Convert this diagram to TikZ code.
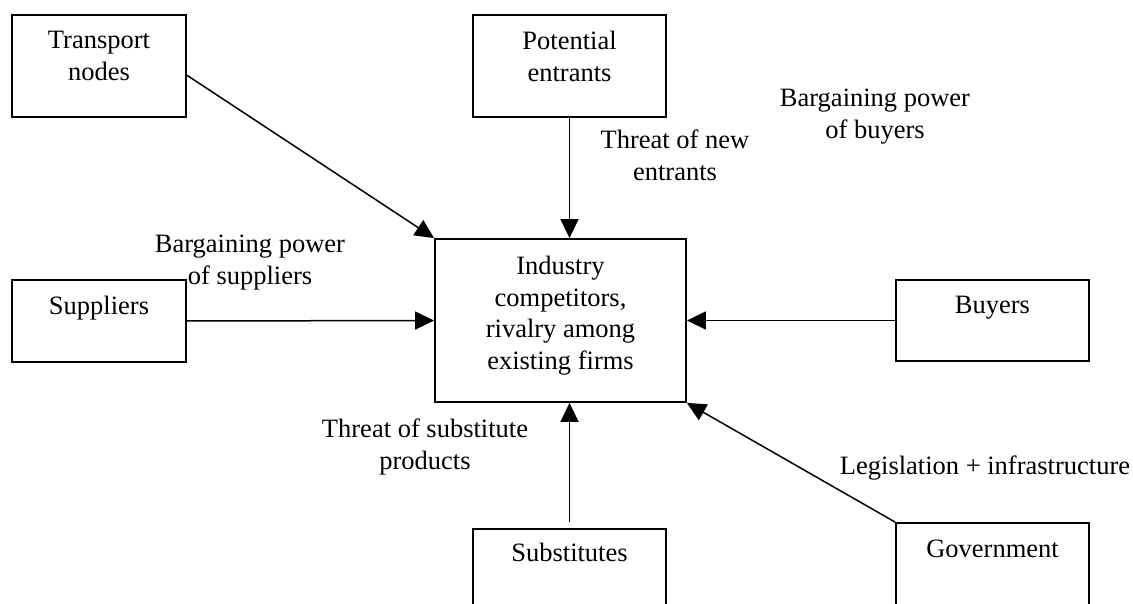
\documentclass[tikz,border=0pt]{standalone}
\usepackage{fontspec}
\setmainfont{Liberation Serif}
\usetikzlibrary{arrows.meta,positioning}
\begin{document}
\begin{tikzpicture}[x=1pt,y=-1pt,
  box/.style={draw,line width=1.8pt,inner sep=0pt},
  txt/.style={font=\fontsize{26.5}{31.5}\selectfont,align=center,inner sep=0pt},
  arr/.style={line width=1.5pt,-{Triangle[length=19pt,width=18pt]}}]
\clip (0,0) rectangle (1133,604);
% boxes
\node[box,minimum width=174pt,minimum height=102pt] (tn) at (99,66) {};
\node[box,minimum width=193pt,minimum height=102pt] (pe) at (569.5,66) {};
\node[box,minimum width=251pt,minimum height=163pt] (ic) at (560.5,320.5) {};
\node[box,minimum width=174pt,minimum height=82pt] (sup) at (99,321) {};
\node[box,minimum width=193pt,minimum height=81pt] (buy) at (992.5,320.5) {};
\node[box,minimum width=193pt,minimum height=100pt] (sub) at (569.5,579) {};
\node[box,minimum width=193pt,minimum height=100pt] (gov) at (992.5,573) {};
% box texts
\node[txt,below=17pt of tn.north] (tnt) {Transport\\nodes};
\node[txt,below=17pt of pe.north] (pet) {Potential\\entrants};
\node[txt,below=18pt of ic.north] (ict) {Industry\\competitors,\\rivalry among\\existing firms};
\node[txt,below=17pt of sup.north] (supt) {Suppliers};
\node[txt,below=17pt of buy.north] (buyt) {Buyers};
\node[txt,below=15pt of sub.north] (subt) {Substitutes};
\node[txt,below=18pt of gov.north] (govt) {Government};
% labels
\node[txt,anchor=north] (lne) at (675,130) {Threat of new\\entrants};
\node[txt,anchor=north] (lbuy) at (875,89) {Bargaining power\\of buyers};
\node[txt,anchor=north] (lsup) at (250,235) {Bargaining power\\of suppliers};
\node[txt,anchor=north] (lsub) at (425,419) {Threat of substitute\\products};
\node[txt,anchor=north] (lleg) at (985,456) {Legislation + infrastructure};
% connectors
\draw[arr] (tn.-6) -- (ic.north west);
\draw[arr] (pe.south) -- (pe.south |- ic.north);
\draw[arr] (sup.east) -- (ic.west);
\draw[arr] (buy.west) -- (ic.east);
\draw[arr,shorten <=6pt] (sub.north) -- (sub.north |- ic.south);
\draw[arr] (gov.north west) -- (ic.south east);
\end{tikzpicture}
\end{document}
